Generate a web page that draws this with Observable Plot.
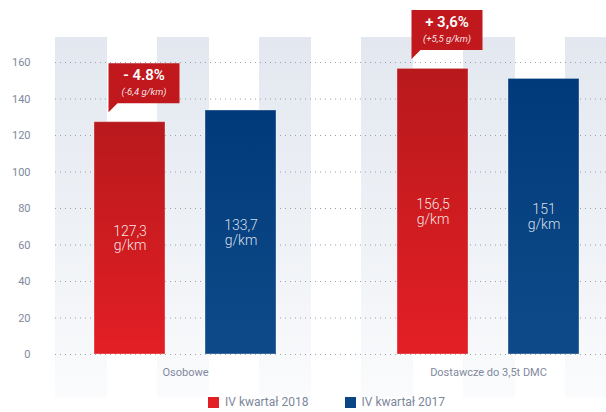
<!DOCTYPE html>
<html>
<head>
<meta charset="utf-8">
<script src="https://cdn.jsdelivr.net/npm/d3@7"></script>
<script src="https://cdn.jsdelivr.net/npm/@observablehq/plot@0.6"></script>
<style>
  html, body { margin: 0; padding: 0; background: #fff; }
  #wrap { position: relative; width: 606px; height: 412px; font-family: Roboto, "Noto Sans", sans-serif; }
  #bands {
    position: absolute; left: 55px; top: 37px; width: 551px; height: 360px; z-index: 0;
    background-image:
      linear-gradient(to bottom, rgba(255,255,255,0) 0%, rgba(255,255,255,0.4) 55%, rgba(255,255,255,0.85) 100%),
      repeating-linear-gradient(90deg, #e3e8f0 0px, #e3e8f0 52px, #ffffff 52px, #ffffff 102px);
  }
  #chart { position: relative; z-index: 1; }
  #legend { position: relative; z-index: 1; height: 22px; display: flex; align-items: center; padding-left: 208px; padding-top: 2px; box-sizing: border-box; font-size: 12px; color: #7c869b; }
  .sw { display: inline-block; width: 11px; height: 11px; margin-right: 6px; }
  .item { display: flex; align-items: center; margin-right: 36px; }
</style>
</head>
<body>
<div id="wrap">
  <div id="bands"></div>
  <div id="chart"></div>
  <div id="legend"></div>
</div>
<script>
const categories = ["Osobowe", "Dostawcze do 3,5t DMC"];
const series = ["IV kwartał 2018", "IV kwartał 2017"];
const values2018 = [127.3, 156.5];
const values2017 = [133.7, 151];
const changePct = ["- 4.8%", "+ 3,6%"];
const changeAbs = ["(-6,4 g/km)", "(+5,5 g/km)"];
const yTicks = [0, 20, 40, 60, 80, 100, 120, 140, 160];
const unit = "g/km";

const fmt = v => String(v).replace(".", ",");
const d2018 = categories.map((c, i) => ({cat: c, value: values2018[i], label: fmt(values2018[i]) + "\n" + unit, pct: changePct[i], abs: changeAbs[i]}));
const d2017 = categories.map((c, i) => ({cat: c, value: values2017[i], label: fmt(values2017[i]) + "\n" + unit}));

// callout shape (box with a pointer at its lower-left corner), anchored at the red bar's top centre
const callout = {
  draw(ctx) {
    ctx.moveTo(-21.5, -10);
    ctx.lineTo(-12.5, -19);
    ctx.lineTo(49.5, -19);
    ctx.lineTo(49.5, -59);
    ctx.lineTo(-21.5, -59);
    ctx.closePath();
  }
};

const svg = Plot.plot({
  width: 606,
  height: 390,
  marginLeft: 55,
  marginRight: 0,
  marginTop: 62,
  marginBottom: 36,
  style: {background: "transparent", color: "#7f899d", fontFamily: "Roboto, sans-serif", fontSize: "11px"},
  x: {domain: categories, paddingInner: 0.4, paddingOuter: 0.108, align: 0.59, label: null, tickSize: 0, tickPadding: 14},
  y: {domain: [0, 160], ticks: yTicks, label: null, tickSize: 0, tickPadding: 25},
  marks: [
    Plot.ruleY(yTicks, {stroke: "#8f96a3", strokeDasharray: "1,4", strokeWidth: 1, strokeOpacity: 0.9}),
    Plot.barY(d2018, {x: "cat", y: "value", insetRight: 111, fill: "url(#gRed)", stroke: "rgba(255,255,255,0.35)", strokeWidth: 1}),
    Plot.barY(d2017, {x: "cat", y: "value", insetLeft: 111, fill: "url(#gBlue)", stroke: "rgba(255,255,255,0.35)", strokeWidth: 1}),
    Plot.text(d2018, {x: "cat", y: d => d.value / 2, text: "label", dx: -55.5, fill: "#fff", fillOpacity: 0.9, fontSize: 14, fontWeight: 300, lineHeight: 1.05}),
    Plot.text(d2017, {x: "cat", y: d => d.value / 2, text: "label", dx: 55.5, fill: "#fff", fillOpacity: 0.85, fontSize: 14, fontWeight: 300, lineHeight: 1.05}),
    Plot.dot(d2018, {x: "cat", y: "value", dx: -55.5, symbol: callout, r: 5, fill: "#c0181d", stroke: "none"}),
    Plot.text(d2018, {x: "cat", y: "value", text: "pct", dx: -41.5, dy: -47, fill: "#fff", fontSize: 15, fontWeight: 600}),
    Plot.text(d2018, {x: "cat", y: "value", text: "abs", dx: -41.5, dy: -30, fill: "#fff", fillOpacity: 0.9, fontSize: 9.5, fontStyle: "italic"})
  ]
});

d3.select(svg).insert("defs", ":first-child").html(`
  <linearGradient id="gRed" x1="0" y1="0" x2="0" y2="1">
    <stop offset="0" stop-color="#b8191c"/>
    <stop offset="1" stop-color="#e31f25"/>
  </linearGradient>
  <linearGradient id="gBlue" x1="0" y1="0" x2="0" y2="1">
    <stop offset="0" stop-color="#013a7a"/>
    <stop offset="1" stop-color="#0e4a89"/>
  </linearGradient>`);

document.getElementById("chart").appendChild(svg);

const colors = ["#e11f25", "#0c4584"];
const legend = document.getElementById("legend");
series.forEach((s, i) => {
  const item = document.createElement("span");
  item.className = "item";
  item.innerHTML = `<span class="sw" style="background:${colors[i]}"></span>${s}`;
  legend.appendChild(item);
});
</script>
</body>
</html>
